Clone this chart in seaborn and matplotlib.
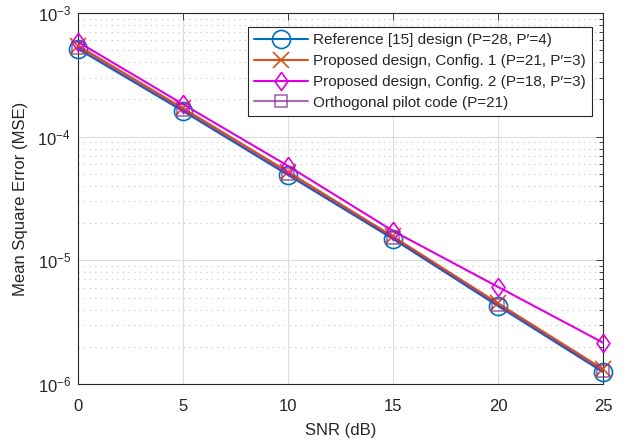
import numpy as np
import pandas as pd
import matplotlib
matplotlib.use("Agg")
import matplotlib.pyplot as plt
import seaborn as sns
from matplotlib.ticker import LogLocator, LogFormatterMathtext, NullFormatter

snr_db = [0, 5, 10, 15, 20, 25]
mse_reference = [5.12e-4, 1.61e-4, 4.9e-5, 1.49e-5, 4.27e-6, 1.25e-6]
mse_config1 = [5.45e-4, 1.70e-4, 5.2e-5, 1.56e-5, 4.5e-6, 1.32e-6]
mse_config2 = [5.83e-4, 1.83e-4, 5.8e-5, 1.73e-5, 6.1e-6, 2.16e-6]
mse_orthogonal = [5.25e-4, 1.64e-4, 5.0e-5, 1.51e-5, 4.35e-6, 1.27e-6]

labels = [
    "Reference [15] design (P=28, P\u2032=4)",
    "Proposed design, Config. 1 (P=21, P\u2032=3)",
    "Proposed design, Config. 2 (P=18, P\u2032=3)",
    "Orthogonal pilot code (P=21)",
]

sns.set_theme(style="white")
plt.rcParams["font.family"] = ["Liberation Sans", "DejaVu Sans"]
plt.rcParams["mathtext.fontset"] = "custom"
plt.rcParams["mathtext.rm"] = "Liberation Sans"
plt.rcParams["mathtext.it"] = "Liberation Sans:italic"

fig = plt.figure(figsize=(6.29, 4.41), dpi=100)
ax = fig.add_axes([78 / 629, 1 - 384 / 441, (603 - 78) / 629, (384 - 13) / 441])

# slightly tall diamond outline
diamond = [(0, 1), (0.72, 0), (0, -1), (-0.72, 0), (0, 1)]

series = [
    (mse_reference, "o", "#0072BD", 13, 1.0),
    (mse_config1, "x", "#D95319", 12, 1.0),
    (mse_config2, diamond, "#E000E0", 13, 1.0),
    (mse_orthogonal, "s", "#7E2F8E", 8, 0.7),
]

for (vals, mk, col, ms, alpha), lab in zip(series, labels):
    df = pd.DataFrame({"SNR": snr_db, "MSE": vals})
    sns.lineplot(data=df, x="SNR", y="MSE", ax=ax, color=col, marker=mk,
                 markersize=ms, markerfacecolor="none",
                 markeredgecolor=col, markeredgewidth=1.2, linewidth=1.5,
                 alpha=alpha, label=lab, clip_on=False, zorder=3)

ax.set_yscale("log")
ax.set_xlim(0, 25)
ax.set_ylim(1e-6, 1e-3)
ax.set_xticks([0, 5, 10, 15, 20, 25])
ax.yaxis.set_major_locator(LogLocator(base=10, numticks=10))
ax.yaxis.set_major_formatter(LogFormatterMathtext())
ax.yaxis.set_minor_locator(LogLocator(base=10, subs=np.arange(2, 10), numticks=20))
ax.yaxis.set_minor_formatter(NullFormatter())

ax.grid(True, which="major", color="#DCDCDC", linewidth=0.8, linestyle="-")
ax.grid(True, which="minor", axis="y", color="#C4C4C4", linewidth=0.8, linestyle=(0, (1, 4)))
ax.set_axisbelow(True)

for s in ax.spines.values():
    s.set_color("#262626")
    s.set_linewidth(0.8)
    s.set_zorder(2.5)
ax.tick_params(which="both", direction="in", top=True, right=True, colors="#262626",
               labelsize=12, labelcolor="#262626")
ax.tick_params(which="major", length=5, width=0.6)
ax.tick_params(axis="x", which="major", pad=11)
ax.tick_params(axis="y", which="major", pad=5)
ax.tick_params(which="minor", length=3, width=0.6)

ax.set_xlabel("SNR (dB)", fontsize=12, color="#262626", labelpad=6)
ax.set_ylabel("Mean Square Error (MSE)", fontsize=12, color="#262626", labelpad=7)

leg = ax.legend(loc="upper right", fontsize=11, frameon=True, fancybox=False,
                edgecolor="#262626", framealpha=1, borderpad=0.4, labelspacing=0.45,
                handlelength=3.5, handletextpad=0.35, borderaxespad=0,
                bbox_to_anchor=(1 - 11 / 525, 1 - 14 / 371), markerscale=1.0)
leg.get_frame().set_linewidth(0.8)
leg.set_zorder(5)

fig.savefig("out.png", dpi=100)
